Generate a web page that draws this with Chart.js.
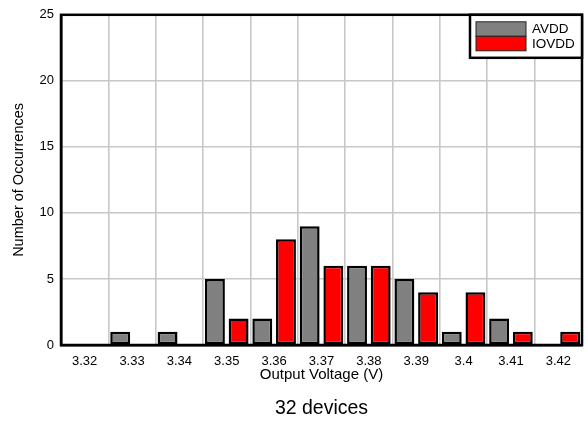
<!DOCTYPE html>
<html>
<head>
<meta charset="utf-8">
<script src="https://cdn.jsdelivr.net/npm/chart.js@4/dist/chart.umd.min.js"></script>
<style>
  body { margin: 0; background: #fff; overflow: hidden; }
  #wrap { position: relative; width: 587px; height: 422px; }
  #caption {
    position: absolute; left: 61px; width: 521px; top: 397px;
    text-align: center; font: 19.5px "Liberation Sans", Arial, sans-serif;
    line-height: 20px; color: #000;
  }
</style>
</head>
<body>
<div id="wrap">
  <canvas id="chart" width="587" height="422"></canvas>
  <div id="caption">32 devices</div>
</div>
<script>
const voltages = ['3.32', '3.33', '3.34', '3.35', '3.36', '3.37', '3.38', '3.39', '3.4', '3.41', '3.42'];
const avddCounts = [0, 1, 1, 5, 2, 9, 6, 5, 1, 2, 0];
const iovddCounts = [0, 0, 0, 2, 8, 6, 6, 4, 4, 1, 1];
const yTicks = [0, 5, 10, 15, 20, 25];

const fontFamily = '"Liberation Sans", Arial, sans-serif';

// black frame round the plot area
const framePlugin = {
  id: 'frame',
  afterDatasetsDraw(chart) {
    const { ctx, chartArea: a } = chart;
    ctx.save();
    ctx.strokeStyle = '#000';
    ctx.lineWidth = 2.5;
    ctx.strokeRect(a.left, a.top, a.right - a.left, a.bottom - a.top);
    ctx.restore();
  }
};

// boxed legend in the top right corner
const legendBoxPlugin = {
  id: 'legendBox',
  afterDraw(chart) {
    const { ctx, chartArea: a } = chart;
    const boxW = 112, boxH = 43;
    const x0 = a.right - boxW, y0 = a.top;
    ctx.save();
    ctx.fillStyle = '#fff';
    ctx.fillRect(x0, y0, boxW, boxH);
    ctx.strokeStyle = '#000';
    ctx.lineWidth = 2.5;
    ctx.strokeRect(x0, y0, boxW, boxH);
    ctx.font = '13.5px ' + fontFamily;
    ctx.textBaseline = 'middle';
    chart.data.datasets.forEach((ds, i) => {
      const sy = y0 + 7 + i * 14.5;
      ctx.fillStyle = ds.backgroundColor;
      ctx.fillRect(x0 + 6, sy, 50, 14.5);
      ctx.lineWidth = 1;
      ctx.strokeStyle = '#222';
      ctx.strokeRect(x0 + 6, sy, 50, 14.5);
      ctx.fillStyle = '#000';
      ctx.fillText(ds.label, x0 + 62, sy + 7.5);
    });
    ctx.restore();
  }
};

new Chart(document.getElementById('chart'), {
  type: 'bar',
  data: {
    labels: voltages,
    datasets: [
      {
        label: 'AVDD',
        data: avddCounts,
        backgroundColor: '#808080',
        borderColor: '#000',
        borderWidth: 2.5,
        borderSkipped: false
      },
      {
        label: 'IOVDD',
        data: iovddCounts,
        backgroundColor: '#ff0000',
        borderColor: '#000',
        borderWidth: 2.5,
        borderSkipped: false
      }
    ]
  },
  options: {
    responsive: false,
    animation: false,
    categoryPercentage: 1.0,
    barPercentage: 0.84,
    layout: { padding: { top: 10, right: 5, left: 0, bottom: 0 } },
    plugins: {
      legend: { display: false },
      tooltip: { enabled: false }
    },
    scales: {
      x: {
        grid: { color: '#c8c8c8', lineWidth: 1.6, drawTicks: false, offset: true },
        border: { color: '#000', width: 2.5 },
        ticks: { color: '#000', padding: 9, font: { family: fontFamily, size: 13 } },
        title: {
          display: true,
          text: 'Output Voltage (V)',
          color: '#000',
          font: { family: fontFamily, size: 15 },
          padding: { top: 0, bottom: 38 }
        },
        afterFit(scale) { scale.height = 77; }
      },
      y: {
        min: 0,
        max: 25,
        afterBuildTicks(scale) { scale.ticks = yTicks.map(v => ({ value: v })); },
        grid: { color: '#c8c8c8', lineWidth: 1.6, drawTicks: false },
        border: { color: '#000', width: 2.5 },
        ticks: { color: '#000', padding: 7, font: { family: fontFamily, size: 13 } },
        title: {
          display: true,
          text: 'Number of Occurrences',
          color: '#000',
          font: { family: fontFamily, size: 14.5 },
          padding: { top: 10, bottom: 0 }
        },
        afterFit(scale) { scale.width = 61; }
      }
    }
  },
  plugins: [framePlugin, legendBoxPlugin]
});
</script>
</body>
</html>
